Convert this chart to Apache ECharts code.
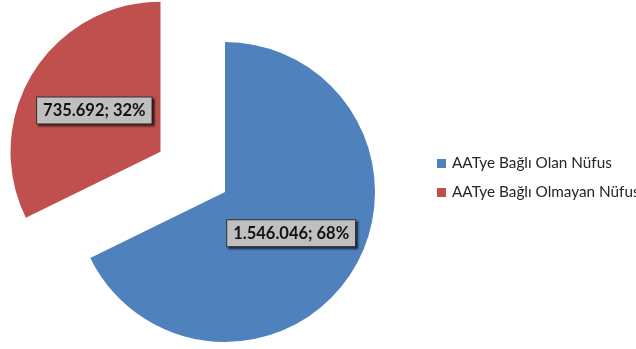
<!DOCTYPE html>
<html>
<head>
<meta charset="utf-8">
<script src="https://cdn.jsdelivr.net/npm/echarts@6/dist/echarts.min.js"></script>
<style>
  html, body { margin: 0; padding: 0; background: #ffffff; }
  #chart { width: 636px; height: 349px; }
</style>
</head>
<body>
<div id="chart"></div>
<script>
// Population split by connection status
const categories = ['AATye Bağlı Olan Nüfus', 'AATye Bağlı Olmayan Nüfus'];
const populationValues = [1546046, 735692];
const sliceColors = ['#4F81BD', '#C0504D'];
const explodedSlice = [false, true];

function formatThousands(v) {
  return String(v).replace(/\B(?=(\d{3})+(?!\d))/g, '.');
}

const chart = echarts.init(document.getElementById('chart'), null, { renderer: 'canvas' });

chart.setOption({
  animation: false,
  backgroundColor: '#ffffff',
  legend: {
    orient: 'vertical',
    left: 432,
    top: 151,
    icon: 'rect',
    itemWidth: 9,
    itemHeight: 9,
    itemGap: 14,
    selectedMode: false,
    textStyle: {
      fontFamily: 'Lato, "Open Sans", sans-serif',
      fontSize: 15.3,
      lineHeight: 15,
      color: '#262626',
      padding: [0, 0, 0, 1]
    },
    data: categories
  },
  series: [{
    type: 'pie',
    center: [225, 192],
    radius: [0, 150],
    startAngle: 90,
    clockwise: true,
    selectedMode: 'multiple',
    selectedOffset: 76,
    emphasis: { disabled: true },
    label: {
      show: true,
      position: 'inside',
      formatter: function (p) {
        return formatThousands(p.value) + '; ' + Math.round(p.percent) + '%';
      },
      fontFamily: 'Lato, "Open Sans", sans-serif',
      fontWeight: 'bold',
      fontSize: 16.5,
      color: '#111111',
      backgroundColor: '#BFBFBF',
      borderColor: '#333333',
      borderWidth: 1,
      padding: [5, 6, 4, 6],
      shadowColor: 'rgba(0,0,0,0.55)',
      shadowBlur: 2,
      shadowOffsetX: 2,
      shadowOffsetY: 2
    },
    labelLine: { show: false },
    data: categories.map(function (name, i) {
      return {
        name: name,
        value: populationValues[i],
        selected: explodedSlice[i],
        itemStyle: { color: sliceColors[i] }
      };
    })
  }]
});
</script>
</body>
</html>
